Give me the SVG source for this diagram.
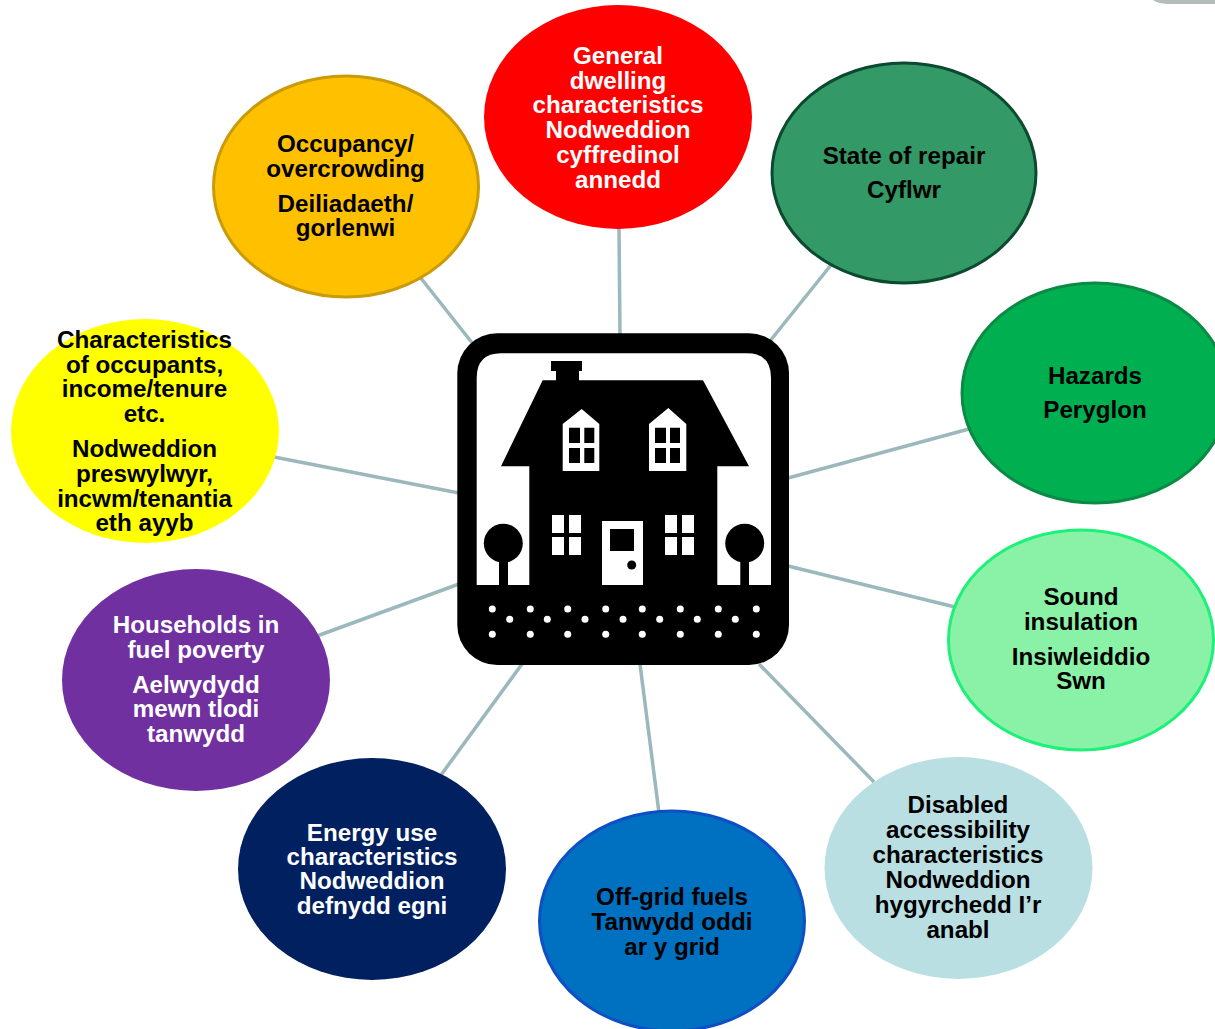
<svg xmlns="http://www.w3.org/2000/svg" width="1215" height="1029" viewBox="0 0 1215 1029">
<style>
.n{stroke-width:3}
text{font-family:"Liberation Sans",Arial,sans-serif;font-weight:700;font-size:24.2px;text-anchor:middle;fill:#000}
text.w{fill:#fff}
.c line{stroke:#9BB8BC;stroke-width:3.5;fill:none}
.b{fill:#000}.f{fill:#fff}
</style>
<rect width="1215" height="1029" fill="#fff"/>
<path d="M1153 0Q1158 4 1170 4L1215 4L1215 0Z" fill="#b4bcbc"/>
<g id="connectors" class="c">
<line x1="619" y1="228" x2="620" y2="336"/>
<line x1="831" y1="265" x2="770" y2="341"/>
<line x1="969" y1="429" x2="788" y2="478"/>
<line x1="955" y1="607" x2="788" y2="566"/>
<line x1="874" y1="782" x2="759" y2="664"/>
<line x1="659" y1="813" x2="640" y2="664"/>
<line x1="441" y1="775" x2="522" y2="664"/>
<line x1="317" y1="636" x2="459" y2="584"/>
<line x1="274" y1="457" x2="459" y2="493"/>
<line x1="420" y1="277" x2="473" y2="344"/>
</g>
<g id="node-general"><ellipse cx="618" cy="117" rx="134" ry="112" fill="#f00"/>
<text class="w" x="618" y="64">General</text><text class="w" x="618" y="89">dwelling</text><text class="w" x="618" y="113">characteristics</text><text class="w" x="618" y="138">Nodweddion</text><text class="w" x="618" y="163">cyffredinol</text><text class="w" x="618" y="188">annedd</text></g>
<g id="node-repair"><ellipse class="n" cx="904" cy="173" rx="132" ry="110" fill="#339966" stroke="#0B4A2E"/>
<text x="904" y="164">State of repair</text><text x="904" y="198">Cyflwr</text></g>
<g id="node-hazards"><ellipse class="n" cx="1095" cy="393" rx="133" ry="110" fill="#00B050" stroke="#0A8A45"/>
<text x="1095" y="384">Hazards</text><text x="1095" y="418">Peryglon</text></g>
<g id="node-sound"><ellipse class="n" cx="1081" cy="640" rx="132.500" ry="110" fill="#8AF2A6" stroke="#1EF07A"/>
<text x="1081" y="605">Sound</text><text x="1081" y="630">insulation</text><text x="1081" y="665">Insiwleiddio</text><text x="1081" y="689">Swn</text></g>
<g id="node-disabled"><ellipse cx="958.500" cy="868" rx="134" ry="111" fill="#B9DFE3"/>
<text x="958" y="813">Disabled</text><text x="958" y="838">accessibility</text><text x="958" y="863">characteristics</text><text x="958" y="888">Nodweddion</text><text x="958" y="913">hygyrchedd I’r</text><text x="958" y="938">anabl</text></g>
<g id="node-offgrid"><ellipse class="n" cx="672" cy="921" rx="132.500" ry="110" fill="#0070C0" stroke="#0F4FC4"/>
<text x="672" y="905">Off-grid fuels</text><text x="672" y="930">Tanwydd oddi</text><text x="672" y="955">ar y grid</text></g>
<g id="node-energy"><ellipse cx="372" cy="869" rx="134" ry="111" fill="#002060"/>
<text class="w" x="372" y="841">Energy use</text><text class="w" x="372" y="865">characteristics</text><text class="w" x="372" y="889">Nodweddion</text><text class="w" x="372" y="914">defnydd egni</text></g>
<g id="node-poverty"><ellipse cx="196" cy="680" rx="134" ry="111" fill="#7030A0"/>
<text class="w" x="196" y="633">Households in</text><text class="w" x="196" y="658">fuel poverty</text><text class="w" x="196" y="693">Aelwydydd</text><text class="w" x="196" y="717">mewn tlodi</text><text class="w" x="196" y="742">tanwydd</text></g>
<g id="node-occupants"><ellipse cx="145" cy="431" rx="134" ry="112" fill="#ff0"/>
<text x="144.500" y="348">Characteristics</text><text x="144.500" y="373">of occupants,</text><text x="144.500" y="397">income/tenure</text><text x="144.500" y="422">etc.</text><text x="144.500" y="457">Nodweddion</text><text x="144.500" y="482">preswylwyr,</text><text x="144.500" y="507">incwm/tenantia</text><text x="144.500" y="531">eth ayyb</text></g>
<g id="node-occupancy"><ellipse class="n" cx="346" cy="186.500" rx="132.500" ry="110.500" fill="#FFC000" stroke="#C99A0A"/>
<text x="345.500" y="152">Occupancy/</text><text x="345.500" y="177">overcrowding</text><text x="345.500" y="212">Deiliadaeth/</text><text x="345.500" y="236">gorlenwi</text></g>
<g id="node-house">
<rect class="b" x="457.3" y="333.3" width="331.7" height="331.7" rx="40"/>
<path class="f" d="M476.7 585V378Q476.7 353.3 501 353.3H747Q771 353.3 771 378V585Z"/>
<path class="b" d="M551 361H582V371H579V380.3H703L749 466.3H717.3V585H529.3V466.3H501L542.7 380.3H556V371H551Z"/>
<path class="f" d="M562.7 424L581.7 409L599.3 424V471H562.7ZM649 424L668.3 408L686.3 424V471H649Z"/>
<path class="b" d="M569 427.7h11v15.3h-11zM584.3 427.7h10v15.3h-10zM569 448h11v15h-11zM584.3 448h10v15h-10zM655 427.7h11v15.3h-11zM670 427.7h10v15.3h-10zM655 448h11v15h-11zM670 448h10v15h-10z"/>
<path class="f" d="M552 515h12v18h-12zM569 515h12v18h-12zM552 537h12v18h-12zM569 537h12v18h-12zM665 515h12v18h-12zM682 515h12v18h-12zM665 537h12v18h-12zM682 537h12v18h-12zM602 521h41v64h-41z"/>
<rect class="b" x="610" y="529" width="24" height="22"/>
<circle class="b" cx="631.7" cy="565" r="4.5"/>
<circle class="b" cx="503.3" cy="543.3" r="19.5"/><rect class="b" x="499" y="550" width="9" height="36"/>
<circle class="b" cx="744.7" cy="543.3" r="19.5"/><rect class="b" x="740.3" y="550" width="8.7" height="36"/>
<g class="f">
<circle cx="492.3" cy="609" r="3.5"/><circle cx="530.3" cy="609" r="3.5"/><circle cx="567.7" cy="609" r="3.5"/><circle cx="605.7" cy="609" r="3.5"/><circle cx="642.3" cy="609" r="3.5"/><circle cx="680.3" cy="609" r="3.5"/><circle cx="718.3" cy="609" r="3.5"/><circle cx="756.3" cy="609" r="3.5"/>
<circle cx="509.7" cy="619.3" r="3.5"/><circle cx="547.3" cy="619.3" r="3.5"/><circle cx="585" cy="619.3" r="3.5"/><circle cx="623" cy="619.3" r="3.5"/><circle cx="659.7" cy="619.3" r="3.5"/><circle cx="697.3" cy="619.3" r="3.5"/><circle cx="735.3" cy="619.3" r="3.5"/>
<circle cx="492.3" cy="634.3" r="3.5"/><circle cx="530.3" cy="634.3" r="3.5"/><circle cx="567.7" cy="634.3" r="3.5"/><circle cx="605.7" cy="634.3" r="3.5"/><circle cx="642.3" cy="634.3" r="3.5"/><circle cx="680.3" cy="634.3" r="3.5"/><circle cx="718.3" cy="634.3" r="3.5"/><circle cx="756.3" cy="634.3" r="3.5"/>
</g>
</g>
</svg>
